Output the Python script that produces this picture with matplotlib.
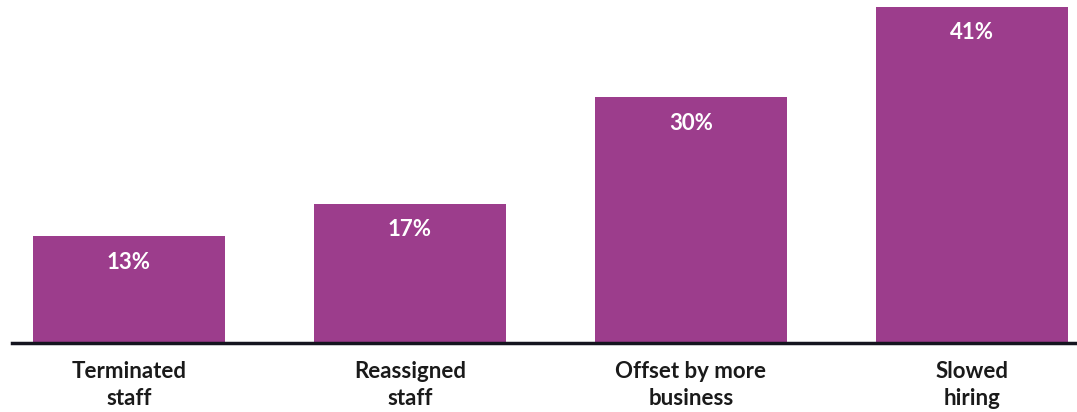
import matplotlib
matplotlib.use("Agg")
import matplotlib.pyplot as plt

# survey answers, share of respondents (%)
categories = ["Terminated\nstaff", "Reassigned\nstaff", "Offset by more\nbusiness", "Slowed\nhiring"]
values = [13, 17, 30, 41]
value_labels = ["13%", "17%", "30%", "41%"]

bar_color = "#9c3d8c"

plt.rcParams['font.family'] = ['Lato', 'DejaVu Sans']

fig = plt.figure(figsize=(10.77, 4.12), dpi=100)
# axes spans from x=12px to the right edge, baseline at y=343px
ax = fig.add_axes([12/1077, (412-343)/412, 1 - 12/1077, 343/412])

pos = list(range(len(values)))
bars = ax.bar(pos, values, width=0.683, color=bar_color, zorder=2)

for b, lab in zip(bars, value_labels):
    ax.annotate(lab, (b.get_x() + b.get_width()/2, b.get_height()),
                xytext=(0, -19), textcoords="offset points",
                ha="center", va="center", color="white",
                fontsize=16, fontweight="bold")

ax.set_xlim(-0.416, 3.374)
ax.set_ylim(0, 41.8)

ax.set_xticks(pos)
ax.set_xticklabels(categories, fontsize=16, fontweight="bold", color="#1a1a1a",
                   linespacing=1.35)
ax.tick_params(axis="x", length=0, pad=13)
ax.set_yticks([])

for s in ["top", "right", "left"]:
    ax.spines[s].set_visible(False)
ax.spines["bottom"].set_linewidth(2.5)
ax.spines["bottom"].set_color("#15151f")
ax.spines["bottom"].set_zorder(3)

fig.savefig("out.png", dpi=100)
